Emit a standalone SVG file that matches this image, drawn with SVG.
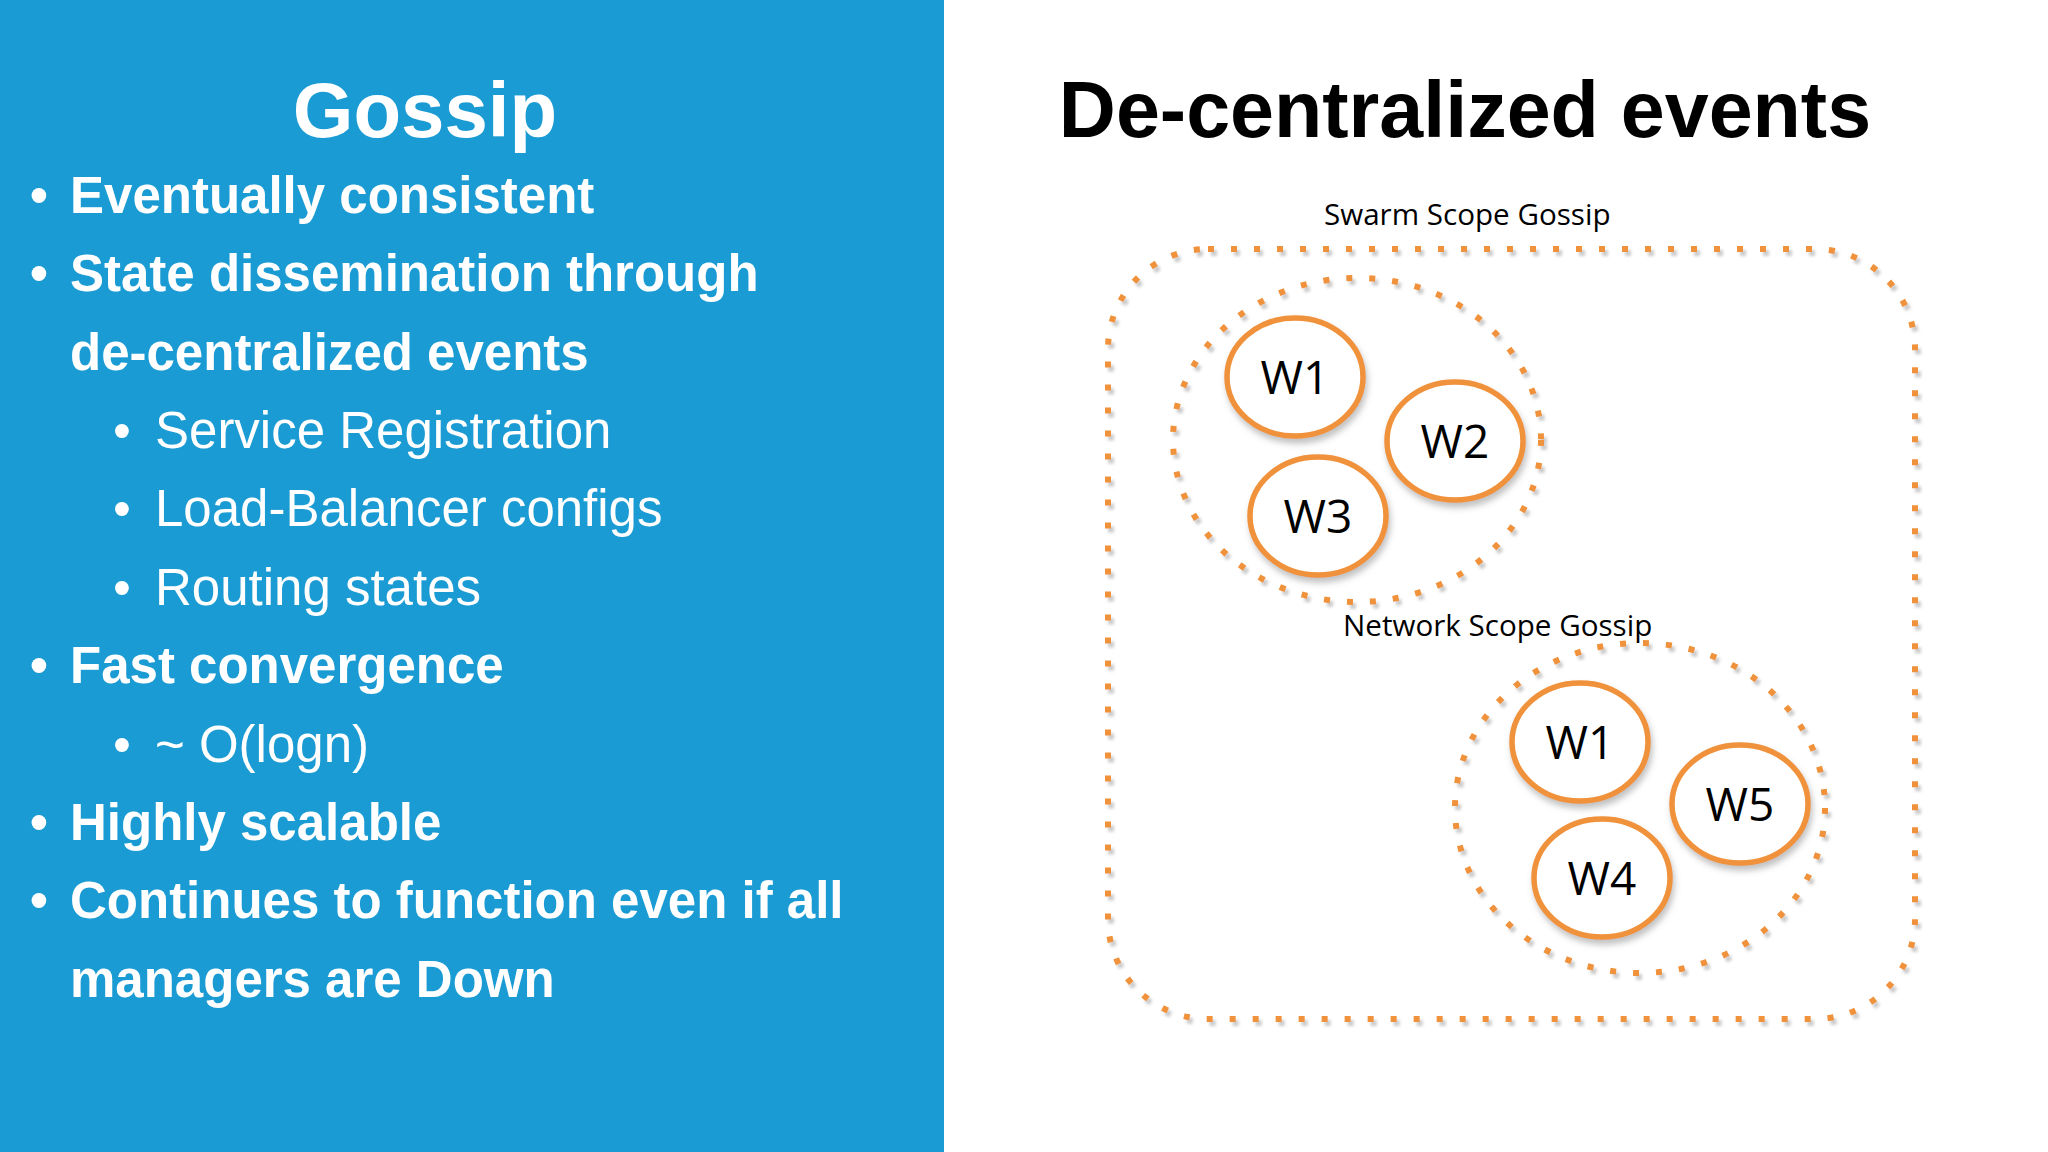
<svg xmlns="http://www.w3.org/2000/svg" width="2048" height="1152" viewBox="0 0 2048 1152">
  <defs>
    <filter id="dotShadow" x="-10%" y="-10%" width="120%" height="120%">
      <feDropShadow dx="3" dy="4" stdDeviation="1.4" flood-color="#8a8a8a" flood-opacity="0.45"/>
    </filter>
    <filter id="nodeShadow" x="-20%" y="-20%" width="140%" height="150%">
      <feDropShadow dx="2" dy="5" stdDeviation="3" flood-color="#777" flood-opacity="0.45"/>
    </filter>
    <style>
      .l1 { font-family: "Liberation Sans", Arial, sans-serif; font-weight: bold; font-size: 51px; fill: #ffffff; }
      .l2 { font-family: "Liberation Sans", Arial, sans-serif; font-size: 51px; fill: #ffffff; }
      .dotted { fill: none; stroke: #f0913a; stroke-width: 6; stroke-dasharray: 6 17; filter: url(#dotShadow); }
      .node { fill: #ffffff; stroke: #f0913a; stroke-width: 5.5; filter: url(#nodeShadow); }
      .nlabel { font-family: "Open Sans", "Noto Sans", sans-serif; font-size: 46px; fill: #000; text-anchor: middle; }
      .glabel { font-family: "Open Sans", "Noto Sans", sans-serif; font-size: 29.6px; fill: #000; }
    </style>
  </defs>

  <rect x="0" y="0" width="2048" height="1152" fill="#ffffff"/>
  <rect x="0" y="0" width="944" height="1152" fill="#1b9bd3"/>

  <g id="left-text">
    <text x="425" y="137" text-anchor="middle" font-family="Liberation Sans, Arial, sans-serif" font-weight="bold" font-size="78" fill="#ffffff">Gossip</text>
    <text class="l1" x="30" y="213">•</text><text class="l1" x="70" y="213">Eventually consistent</text>
    <text class="l1" x="30" y="291">•</text><text class="l1" x="70" y="291">State dissemination through</text>
    <text class="l1" x="70" y="370">de-centralized events</text>
    <text class="l2" x="113" y="448">•</text><text class="l2" x="155" y="448">Service Registration</text>
    <text class="l2" x="113" y="526">•</text><text class="l2" x="155" y="526">Load-Balancer configs</text>
    <text class="l2" x="113" y="605">•</text><text class="l2" x="155" y="605">Routing states</text>
    <text class="l1" x="30" y="683">•</text><text class="l1" x="70" y="683">Fast convergence</text>
    <text class="l2" x="113" y="762">•</text><text class="l2" x="155" y="762">~ O(logn)</text>
    <text class="l1" x="30" y="840">•</text><text class="l1" x="70" y="840">Highly scalable</text>
    <text class="l1" x="30" y="918">•</text><text class="l1" x="70" y="918">Continues to function even if all</text>
    <text class="l1" x="70" y="997">managers are Down</text>
  </g>

  <text x="1465" y="137" text-anchor="middle" font-family="Liberation Sans, Arial, sans-serif" font-weight="bold" font-size="79" fill="#000000">De-centralized events</text>

  <g id="swarm-scope">
    <rect class="dotted" x="1108" y="249" width="807" height="770" rx="100" ry="100"/>
    <text class="glabel" x="1324" y="225">Swarm Scope Gossip</text>
  </g>

  <g id="swarm-group">
    <ellipse class="dotted" cx="1357" cy="440" rx="184" ry="162"/>
  </g>

  <g id="network-scope">
    <ellipse class="dotted" cx="1640" cy="808" rx="185" ry="165"/>
    <text class="glabel" x="1343" y="636">Network Scope Gossip</text>
  </g>

  <g id="connectors"/>

  <g id="node-s-w1">
    <ellipse class="node" cx="1295" cy="377" rx="68" ry="59"/>
    <text class="nlabel" x="1295" y="394">W1</text>
  </g>
  <g id="node-s-w2">
    <ellipse class="node" cx="1455" cy="441" rx="68" ry="59"/>
    <text class="nlabel" x="1455" y="458">W2</text>
  </g>
  <g id="node-s-w3">
    <ellipse class="node" cx="1318" cy="516" rx="68" ry="59"/>
    <text class="nlabel" x="1318" y="533">W3</text>
  </g>
  <g id="node-n-w1">
    <ellipse class="node" cx="1580" cy="742" rx="68" ry="59"/>
    <text class="nlabel" x="1580" y="759">W1</text>
  </g>
  <g id="node-n-w5">
    <ellipse class="node" cx="1740" cy="804" rx="68" ry="59"/>
    <text class="nlabel" x="1740" y="821">W5</text>
  </g>
  <g id="node-n-w4">
    <ellipse class="node" cx="1602" cy="878" rx="68" ry="59"/>
    <text class="nlabel" x="1602" y="895">W4</text>
  </g>
</svg>
